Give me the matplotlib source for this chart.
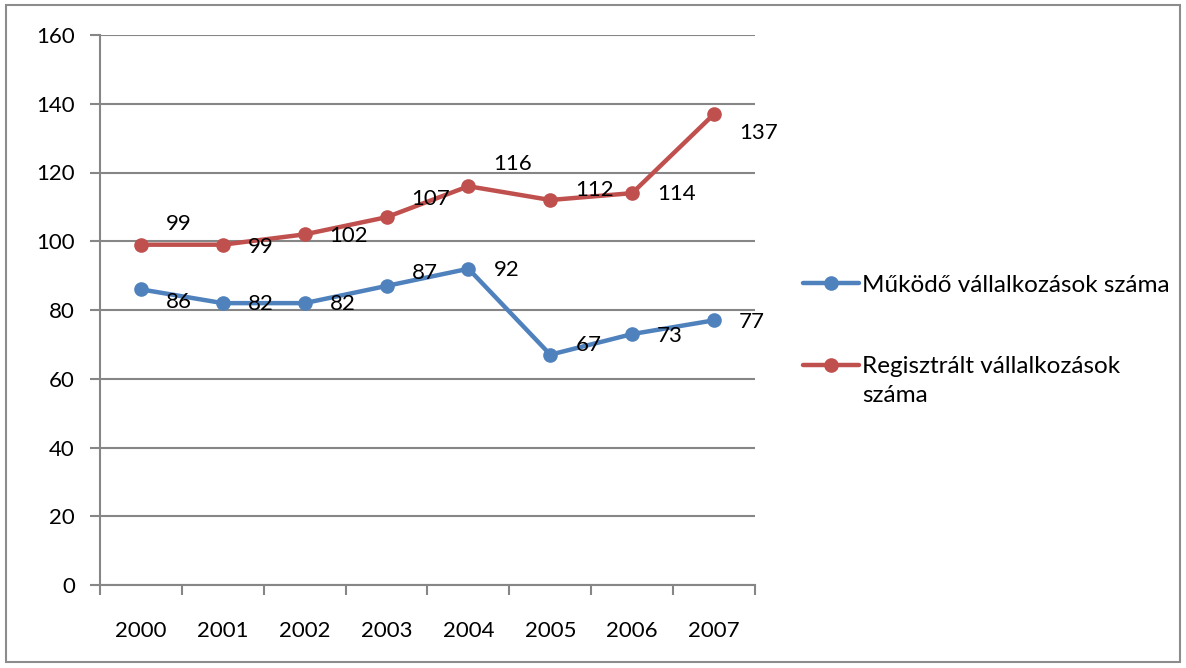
import matplotlib
matplotlib.use("Agg")
import matplotlib.pyplot as plt
from matplotlib.patches import Rectangle

plt.rcParams["font.family"] = ["Lato", "DejaVu Sans"]

years = ["2000", "2001", "2002", "2003", "2004", "2005", "2006", "2007"]
mukodo = [86, 82, 82, 87, 92, 67, 73, 77]
regisztralt = [99, 99, 102, 107, 116, 112, 114, 137]
names = ["Működő vállalkozások száma", "Regisztrált vállalkozások"]
name_wrap = "száma"  # second line of the red legend entry
colors = ["#4F81BD", "#C0504D"]

# label vertical offsets (px, positive = up), as Excel placed them
dy_blue = [-13, -1, -1, 13, -1, 10, -2, -2]
dy_red = [21, -2, -2, 18, 22, 10, -1, -19]

GRID = "#868686"

fig = plt.figure(figsize=(11.86, 6.68), dpi=100)
fig.patches.append(Rectangle((6 / 1186, 6 / 668), 1174 / 1186, 657 / 668,
                             transform=fig.transFigure, fill=False,
                             edgecolor="#8c8c8c", linewidth=1.5))
ax = fig.add_axes([100 / 1186, 1 - 585 / 668, 655 / 1186, 550 / 668])

x = list(range(len(years)))
for vals, dys, col, name in [(mukodo, dy_blue, colors[0], names[0]),
                             (regisztralt, dy_red, colors[1], names[1])]:
    ax.plot(x, vals, color=col, lw=3.2, marker="o", ms=9.5, label=name,
            solid_capstyle="round", zorder=3)
    for xi, v, d in zip(x, vals, dys):
        ax.annotate(str(v), (xi, v), xytext=(25 * 0.72, d * 0.72),
                    textcoords="offset points", ha="left", va="center",
                    fontsize=16, zorder=4)

ax.set_xlim(-0.5, len(years) - 0.5)
ax.set_ylim(0, 160)
ax.set_yticks(range(0, 161, 20))
ax.set_xticks(x)
ax.set_xticklabels(years)
ax.set_xticks([i - 0.5 for i in range(len(years) + 1)], minor=True)
ax.tick_params(axis="x", which="major", length=0, pad=26, labelsize=16)
ax.tick_params(axis="x", which="minor", length=7, width=1.5, color=GRID)
ax.tick_params(axis="y", length=7, width=1.5, color=GRID, pad=11, labelsize=16)
ax.grid(axis="y", color=GRID, lw=1.5)
ax.set_axisbelow(True)
for s in ["top", "right"]:
    ax.spines[s].set_visible(False)
for s in ["left", "bottom"]:
    ax.spines[s].set_color(GRID)
    ax.spines[s].set_linewidth(1.5)

leg = fig.legend(loc="center left", bbox_to_anchor=(781 / 1186, 1 - 326 / 668),
                 frameon=False, fontsize=17.5, handlelength=2.3,
                 handletextpad=0.15, labelspacing=2.5)

# wrapped second line of the red entry, placed under its first line
fig.canvas.draw()
bb = leg.get_texts()[1].get_window_extent()
fig.text(bb.x0 / 1186, (bb.y0 - 29) / 668, name_wrap, fontsize=17.5,
         ha="left", va="bottom")

fig.savefig("out.png", dpi=100)
